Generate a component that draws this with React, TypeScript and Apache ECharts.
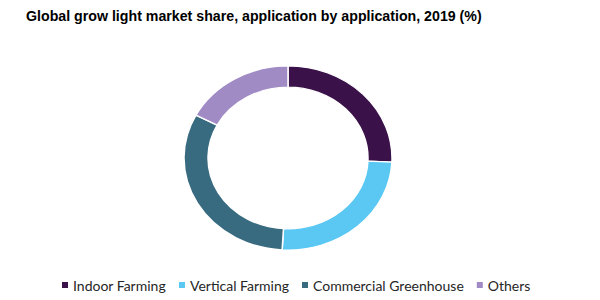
import React, { useEffect, useRef } from "react";
import * as echarts from "echarts";

const categories = ["Indoor Farming", "Vertical Farming", "Commercial Greenhouse", "Others"];
const shares = [25.7, 25.2, 31.8, 17.3];
const colors = ["#3a1149", "#5bc8f4", "#386a80", "#a08bc4"];
const titleText = "Global grow light market share, application by application, 2019 (%)";

export default function App() {
  const mainRef = useRef<HTMLDivElement>(null);
  const pieRef = useRef<HTMLDivElement>(null);

  useEffect(() => {
    document.body.style.margin = "0";
    const pieData = categories.map((name, i) => ({
      name,
      value: shares[i],
      itemStyle: { color: colors[i] },
    }));

    const pie = echarts.init(pieRef.current!, null, { renderer: "svg" });
    pie.setOption({
      animation: false,
      series: [
        {
          type: "pie",
          center: [288, 158],
          radius: [80, 104],
          startAngle: 90,
          clockwise: true,
          silent: true,
          label: { show: false },
          labelLine: { show: false },
          itemStyle: { borderColor: "#ffffff", borderWidth: 1.5 },
          data: pieData,
        },
      ],
    });

    const main = echarts.init(mainRef.current!, null, { renderer: "svg" });
    main.setOption({
      animation: false,
      title: {
        text: titleText,
        left: 21,
        top: 4,
        textStyle: {
          fontFamily: "Liberation Sans",
          fontWeight: "bold",
          fontSize: 14.2,
          color: "#000000",
        },
      },
      legend: {
        data: categories,
        left: 57,
        top: 273,
        icon: "rect",
        itemWidth: 6,
        itemHeight: 6,
        itemGap: 13,
        selectedMode: false,
        itemStyle: { opacity: 1 },
        textStyle: {
          fontFamily: "Lato",
          fontSize: 14,
          color: "#262626",
        },
      },
      series: [
        {
          type: "pie",
          center: [288, 158],
          radius: [0, 0],
          silent: true,
          label: { show: false },
          labelLine: { show: false },
          data: categories.map((name, i) => ({
            name,
            value: shares[i],
            itemStyle: { color: colors[i] },
          })),
        },
      ],
    });

    return () => {
      main.dispose();
      pie.dispose();
    };
  }, []);

  return (
    <div style={{ position: "relative", width: 600, height: 300, background: "#ffffff" }}>
      <div
        ref={pieRef}
        style={{
          position: "absolute",
          left: 0,
          top: 0,
          width: 600,
          height: 300,
          transform: "scaleY(0.885)",
          transformOrigin: "288px 158px",
        }}
      />
      <div
        ref={mainRef}
        style={{ position: "absolute", left: 0, top: 0, width: 600, height: 300 }}
      />
    </div>
  );
}
